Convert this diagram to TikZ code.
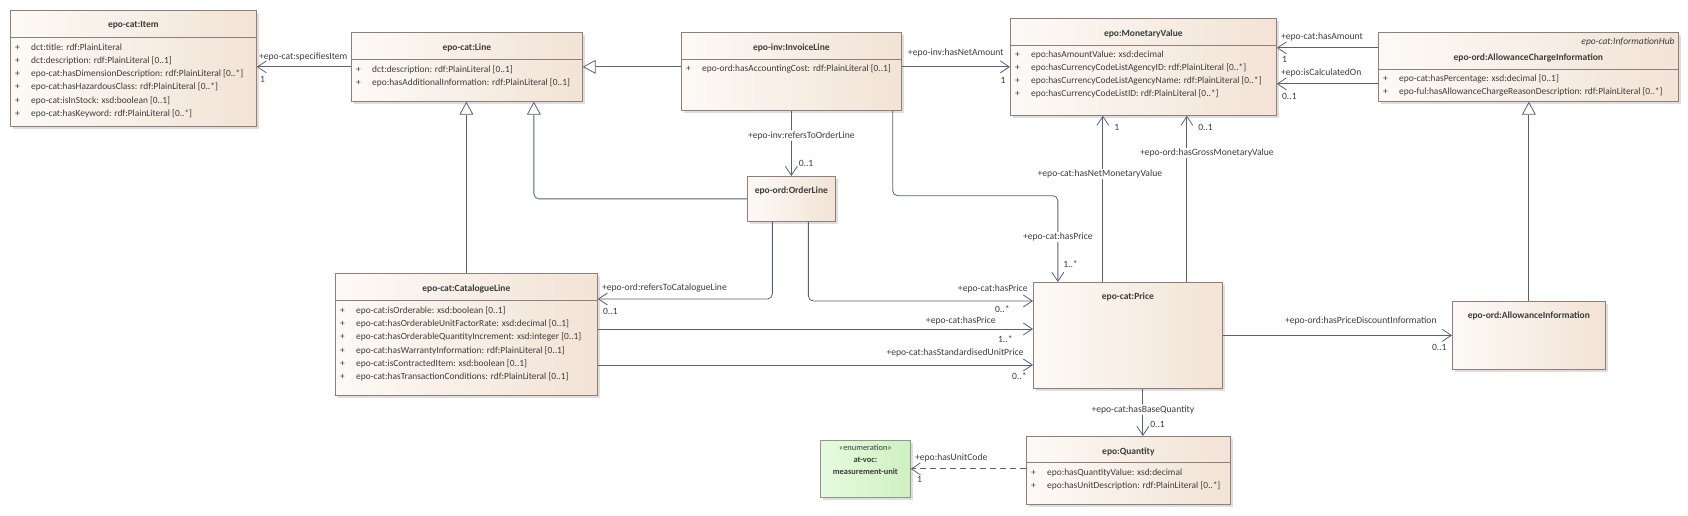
\documentclass[tikz,border=0pt]{standalone}
\usepackage{fontspec}
\setmainfont{Carlito}
\usetikzlibrary{arrows.meta,shadows}

\definecolor{boxl}{HTML}{FDFAF6}
\definecolor{boxr}{HTML}{F2E3D5}
\definecolor{boxline}{HTML}{8F7E7C}
\definecolor{wire}{HTML}{596179}
\definecolor{ink}{HTML}{3C3C3C}
\definecolor{enuml}{HTML}{E6FBDE}
\definecolor{enumr}{HTML}{CFF0C2}
\definecolor{enumline}{HTML}{8A9A86}

\newcommand{\attr}[1]{\makebox[16pt][l]{+}#1}

\begin{document}
\begin{tikzpicture}[x=1pt, y=-1pt, >={Straight Barb[length=9pt,width=12pt]},
    font=\fontsize{9.4}{13.2}\selectfont, text=ink,
    classbox/.style={draw=boxline, line width=0.7pt, left color=boxl, right color=boxr,
      general shadow={fill=black!13, shadow xshift=3pt, shadow yshift=-3pt},
      inner sep=0pt, anchor=north west},
    enumbox/.style={classbox, left color=enuml, right color=enumr, draw=enumline},
    ctitle/.style={font=\fontsize{9.5}{10}\selectfont\bfseries, inner sep=1pt},
    attrs/.style={anchor=north west, align=left, inner sep=0pt},
    sepline/.style={draw=boxline, line width=0.7pt},
    lbl/.style={font=\fontsize{9.6}{10}\selectfont, inner sep=1pt},
    lblw/.style={lbl, fill=white},
    assoc/.style={draw=wire, line width=0.8pt, ->, rounded corners=5pt},
    gen/.style={draw=wire, line width=0.8pt, -{Triangle[length=13pt,width=14pt,fill=white]}, rounded corners=5pt},
    dep/.style={assoc, dash pattern=on 6pt off 4pt}
  ]
  \useasboundingbox (0,0) rectangle (1688,515);

  % Item
  \node[classbox, minimum width=246pt, minimum height=116pt] (item) at (10,10) {};
  \node[ctitle] (itemT) at ([shift={(0,15.5)}]item.north) {epo-cat:Item};
  \draw[sepline] ([shift={(0,27)}]item.north west) -- ([shift={(0,27)}]item.north east);
  \node[attrs] (itemA) at ([shift={(5,33.5)}]item.north west) {\attr{dct:title: rdf:PlainLiteral}\\
    \attr{dct:description: rdf:PlainLiteral [0..1]}\\
    \attr{epo-cat:hasDimensionDescription: rdf:PlainLiteral [0..*]}\\
    \attr{epo-cat:hasHazardousClass: rdf:PlainLiteral [0..*]}\\
    \attr{epo-cat:isInStock: xsd:boolean [0..1]}\\
    \attr{epo-cat:hasKeyword: rdf:PlainLiteral [0..*]}};

  % Line
  \node[classbox, minimum width=231pt, minimum height=69pt] (line) at (351,32) {};
  \node[ctitle] (lineT) at ([shift={(0,15.5)}]line.north) {epo-cat:Line};
  \draw[sepline] ([shift={(0,27)}]line.north west) -- ([shift={(0,27)}]line.north east);
  \node[attrs] (lineA) at ([shift={(5,33.5)}]line.north west) {\attr{dct:description: rdf:PlainLiteral [0..1]}\\
    \attr{epo:hasAdditionalInformation: rdf:PlainLiteral [0..1]}};

  % InvoiceLine
  \node[classbox, minimum width=220pt, minimum height=78pt] (inv) at (681,32) {};
  \node[ctitle] (invT) at ([shift={(0,15.5)}]inv.north) {epo-inv:InvoiceLine};
  \draw[sepline] ([shift={(0,27)}]inv.north west) -- ([shift={(0,27)}]inv.north east);
  \node[attrs] (invA) at ([shift={(5,32.5)}]inv.north west) {\attr{epo-ord:hasAccountingCost: rdf:PlainLiteral [0..1]}};

  % MonetaryValue
  \node[classbox, minimum width=266pt, minimum height=97pt] (mv) at (1010,18) {};
  \node[ctitle] (mvT) at ([shift={(0,15.5)}]mv.north) {epo:MonetaryValue};
  \draw[sepline] ([shift={(0,27)}]mv.north west) -- ([shift={(0,27)}]mv.north east);
  \node[attrs] (mvA) at ([shift={(5,32.5)}]mv.north west) {\attr{epo:hasAmountValue: xsd:decimal}\\
    \attr{epo:hasCurrencyCodeListAgencyID: rdf:PlainLiteral [0..*]}\\
    \attr{epo:hasCurrencyCodeListAgencyName: rdf:PlainLiteral [0..*]}\\
    \attr{epo:hasCurrencyCodeListID: rdf:PlainLiteral [0..*]}};

  % AllowanceChargeInformation
  \node[classbox, minimum width=300pt, minimum height=69pt] (aci) at (1378,32) {};
  \node[lbl, anchor=east, font=\fontsize{9.5}{10}\selectfont\itshape] (aciS) at ([shift={(-3,10)}]aci.north east) {epo-cat:InformationHub};
  \node[ctitle] (aciT) at ([shift={(0,25.5)}]aci.north) {epo-ord:AllowanceChargeInformation};
  \draw[sepline] ([shift={(0,37)}]aci.north west) -- ([shift={(0,37)}]aci.north east);
  \node[attrs] (aciA) at ([shift={(5,42.5)}]aci.north west) {\attr{epo-cat:hasPercentage: xsd:decimal [0..1]}\\
    \attr{epo-ful:hasAllowanceChargeReasonDescription: rdf:PlainLiteral [0..*]}};

  % OrderLine
  \node[classbox, minimum width=88pt, minimum height=45pt] (ordl) at (747,176) {};
  \node[ctitle] (ordlT) at ([shift={(0,15)}]ordl.north) {epo-ord:OrderLine};

  % CatalogueLine
  \node[classbox, minimum width=262pt, minimum height=122pt] (catl) at (335,273) {};
  \node[ctitle] (catlT) at ([shift={(0,16)}]catl.north) {epo-cat:CatalogueLine};
  \draw[sepline] ([shift={(0,27)}]catl.north west) -- ([shift={(0,27)}]catl.north east);
  \node[attrs] (catlA) at ([shift={(5,33.5)}]catl.north west) {\attr{epo-cat:isOrderable: xsd:boolean [0..1]}\\
    \attr{epo-cat:hasOrderableUnitFactorRate: xsd:decimal [0..1]}\\
    \attr{epo-cat:hasOrderableQuantityIncrement: xsd:integer [0..1]}\\
    \attr{epo-cat:hasWarrantyInformation: rdf:PlainLiteral [0..1]}\\
    \attr{epo-cat:isContractedItem: xsd:boolean [0..1]}\\
    \attr{epo-cat:hasTransactionConditions: rdf:PlainLiteral [0..1]}};

  % Price
  \node[classbox, minimum width=189pt, minimum height=106pt] (price) at (1033,282) {};
  \node[ctitle] (priceT) at ([shift={(0,15)}]price.north) {epo-cat:Price};

  % AllowanceInformation
  \node[classbox, minimum width=153pt, minimum height=68pt] (ai) at (1452,301) {};
  \node[ctitle] (aiT) at ([shift={(0,15)}]ai.north) {epo-ord:AllowanceInformation};

  % Quantity
  \node[classbox, minimum width=204pt, minimum height=68pt] (qty) at (1026,436) {};
  \node[ctitle] (qtyT) at ([shift={(0,15.5)}]qty.north) {epo:Quantity};
  \draw[sepline] ([shift={(0,26.5)}]qty.north west) -- ([shift={(0,26.5)}]qty.north east);
  \node[attrs] (qtyA) at ([shift={(5,32.5)}]qty.north west) {\attr{epo:hasQuantityValue: xsd:decimal}\\
    \attr{epo:hasUnitDescription: rdf:PlainLiteral [0..*]}};

  % measurement-unit
  \node[enumbox, minimum width=90pt, minimum height=57pt] (unit) at (820,440) {};
  \node[anchor=north, align=center, inner sep=0pt, font=\fontsize{8.4}{12}\selectfont] (unitT) at ([shift={(0,4)}]unit.north)
    {«enumeration»\\\textbf{at-voc:}\\\textbf{measurement-unit}};

  % Generalizations
  \draw[gen] (inv.west |- line.west) -- (line.east);
  \draw[gen] (ordl.west) -| ([shift={(67,0)}]line.south);
  \draw[gen] (catl.north) -- (catl.north |- line.south);
  \draw[gen] (ai.north) -- (ai.north |- aci.south);

  % Associations
  \draw[assoc] (line.west) -- (item.east |- line.west)
    node[lbl, pos=1, anchor=west, shift={(1,-10)}] (lSpec) {+epo-cat:specifiesItem}
    node[lbl, pos=1, anchor=west, shift={(2,12.5)}] (mSpec) {1};
  \draw[assoc] (inv.east |- line.west) -- (mv.west |- line.west)
    node[lbl, pos=1, anchor=east, shift={(-5,-14)}] (lNetA) {+epo-inv:hasNetAmount}
    node[lbl, pos=1, anchor=east, shift={(-3,13.5)}] (mNetA) {1};

  \coordinate (amt) at ([shift={(0,-19)}]aci.west);
  \coordinate (calc) at ([shift={(0,17)}]aci.west);
  \draw[assoc] (amt) -- (amt -| mv.east)
    node[lbl, pos=1, anchor=west, shift={(3,-11)}] (lAmt) {+epo-cat:hasAmount}
    node[lbl, pos=1, anchor=west, shift={(4,12)}] (mAmt) {1};
  \draw[assoc] (calc) -- (calc -| mv.east)
    node[lbl, pos=1, anchor=west, shift={(3,-11)}] (lCalc) {+epo:isCalculatedOn}
    node[lbl, pos=1, anchor=west, shift={(4,13)}] (mCalc) {0..1};

  \draw[assoc] (ordl.north |- inv.south) -- (ordl.north)
    node[lblw, pos=0.38, shift={(10,0)}] (lRefO) {+epo-inv:refersToOrderLine}
    node[lbl, pos=1, anchor=west, shift={(6,-12.7)}] (mRefO) {0..1};

  \coordinate (invP) at ([shift={(-9,0)}]inv.south east);
  \draw[assoc] (invP) -- ++(0,85) -| ([shift={(-70,0)}]price.north)
    node[lblw, pos=0.74] (lInvP) {+epo-cat:hasPrice}
    node[lbl, pos=1, anchor=west, shift={(4,-17.7)}] (mInvP) {1..*};

  \coordinate (netP) at ([shift={(-25,0)}]price.north);
  \coordinate (grossP) at ([shift={(59,0)}]price.north);
  \draw[assoc] (netP) -- (netP |- mv.south)
    node[lblw, pos=0.65, shift={(-3,0)}] (lNetV) {+epo-cat:hasNetMonetaryValue}
    node[lbl, pos=1, anchor=west, shift={(10,12)}] (mNetV) {1};
  \draw[assoc] (grossP) -- (grossP |- mv.south)
    node[lblw, pos=0.775, shift={(20,0)}] (lGross) {+epo-ord:hasGrossMonetaryValue}
    node[lbl, pos=1, anchor=west, shift={(10,12)}] (mGross) {0..1};

  \draw[assoc] ([shift={(-19,0)}]ordl.south) |- ([shift={(0,26)}]catl.north east)
    node[lbl, pos=1, anchor=west, shift={(3,-11)}] (lRefC) {+epo-ord:refersToCatalogueLine}
    node[lbl, pos=1, anchor=west, shift={(4,12)}] (mRefC) {0..1};
  \draw[assoc] ([shift={(17,0)}]ordl.south) |- ([shift={(0,19)}]price.north west)
    node[lbl, pos=1, anchor=east, shift={(-4,-11.7)}] (lOrdP) {+epo-cat:hasPrice}
    node[lbl, pos=1, anchor=east, shift={(-22,8.5)}] (mOrdP) {0..*};

  \coordinate (cpA) at ([shift={(0,56)}]catl.north east);
  \coordinate (cpB) at ([shift={(0,92)}]catl.north east);
  \draw[assoc] (cpA) -- (cpA -| price.west)
    node[lbl, pos=1, anchor=east, shift={(-36,-8.3)}] (lCatP) {+epo-cat:hasPrice}
    node[lbl, pos=1, anchor=east, shift={(-19,10)}] (mCatP) {1..*};
  \draw[assoc] (cpB) -- (cpB -| price.west)
    node[lbl, pos=1, anchor=east, shift={(-8,-11.6)}] (lStd) {+epo-cat:hasStandardisedUnitPrice}
    node[lbl, pos=1, anchor=east, shift={(-5,11.4)}] (mStd) {0..*};

  \draw[assoc] (price.east |- ai.west) -- (ai.west)
    node[lbl, pos=1, anchor=east, shift={(-14,-14)}] (lDisc) {+epo-ord:hasPriceDiscountInformation}
    node[lbl, pos=1, anchor=east, shift={(-4,12)}] (mDisc) {0..1};

  \coordinate (baseQ) at ([shift={(15,0)}]price.south);
  \draw[assoc] (baseQ) -- (baseQ |- qty.north)
    node[lblw, pos=0.44] (lBase) {+epo-cat:hasBaseQuantity}
    node[lbl, pos=1, anchor=west, shift={(6,-12)}] (mBase) {0..1};

  \draw[dep] (qty.west |- unit.east) -- (unit.east)
    node[lbl, pos=1, anchor=west, shift={(3,-11)}] (lUnit) {+epo:hasUnitCode}
    node[lbl, pos=1, anchor=west, shift={(5,11)}] (mUnit) {1};
\end{tikzpicture}
\end{document}
